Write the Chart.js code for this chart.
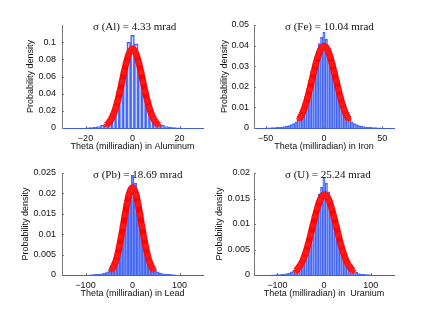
<!DOCTYPE html>
<html>
<head>
<meta charset="utf-8">
<script src="https://cdn.jsdelivr.net/npm/chart.js@4.4.1/dist/chart.umd.min.js"></script>
<style>
  html, body { margin: 0; padding: 0; background: #fff; }
  #wrap { position: relative; width: 436px; height: 309px; }
  #wrap canvas { position: absolute; left: 0; top: 0; }
</style>
</head>
<body>
<div id="wrap">
  <canvas id="alChart" width="436" height="309"></canvas>
  <canvas id="feChart" width="436" height="309"></canvas>
  <canvas id="pbChart" width="436" height="309"></canvas>
  <canvas id="uChart" width="436" height="309"></canvas>
</div>
<script>
// --- Aluminum ---
const alBins = [-19.2, -17.6, -16, -14.4, -12.8, -11.2, -9.6, -8, -6.4, -4.8, -3.2, -1.6, 0,
  1.6, 3.2, 4.8, 6.4, 8, 9.6, 11.2, 12.8, 14.4, 16, 17.6, 19.2];
const alDensity = [0.0003, 0.0005, 0.001, 0.0018, 0.003, 0.005, 0.0085, 0.017, 0.031, 0.05, 0.073, 0.1, 0.108,
  0.098, 0.072, 0.049, 0.03, 0.0165, 0.008, 0.0048, 0.003, 0.0018, 0.001, 0.0005, 0.0003];
const alCurveX = [-10.8, -9.9, -9, -8.1, -7.2, -6.3, -5.4, -4.5, -3.6, -2.7, -1.8, -0.9, 0,
  0.9, 1.8, 2.7, 3.6, 4.5, 5.4, 6.3, 7.2, 8.1, 9, 9.9, 10.8];
const alCurveY = [0.0041, 0.0068, 0.0106, 0.016, 0.0231, 0.032, 0.0423, 0.0537, 0.0652, 0.0758, 0.0845, 0.0901, 0.0921,
  0.0901, 0.0845, 0.0758, 0.0652, 0.0537, 0.0423, 0.032, 0.0231, 0.016, 0.0106, 0.0068, 0.0041];
const alXTicks = [-20, 0, 20];
const alYTicks = [0, 0.02, 0.04, 0.06, 0.08, 0.1];
const alYLabels = ['0', '0.02', '0.04', '0.06', '0.08', '0.1'];

// --- Iron ---
const feBins = [-48, -46, -44, -42, -40, -38, -36, -34, -32, -30, -28, -26, -24, -22, -20, -18, -16, -14, -12, -10, -8, -6, -4, -2, 0,
  2, 4, 6, 8, 10, 12, 14, 16, 18, 20, 22, 24, 26, 28, 30, 32, 34, 36, 38, 40, 42, 44, 46, 48];
const feDensity = [0.0001, 0.0001, 0.00015, 0.0002, 0.0003, 0.0004, 0.0005, 0.0007, 0.0009, 0.0012, 0.0016, 0.0022, 0.003,
  0.0042, 0.006, 0.0082, 0.0112, 0.015, 0.0195, 0.025, 0.03, 0.036, 0.041, 0.044, 0.0465,
  0.043, 0.039, 0.035, 0.0295, 0.0245, 0.0195, 0.015, 0.0113, 0.0083, 0.006, 0.0043, 0.003, 0.0022,
  0.0016, 0.0012, 0.0009, 0.0007, 0.0005, 0.0004, 0.0003, 0.0002, 0.00015, 0.0001, 0.0001];
const feCurveX = [-21, -19.25, -17.5, -15.75, -14, -12.25, -10.5, -8.75, -7, -5.25, -3.5, -1.75, 0,
  1.75, 3.5, 5.25, 7, 8.75, 10.5, 12.25, 14, 15.75, 17.5, 19.25, 21];
const feCurveY = [0.0045, 0.0063, 0.0087, 0.0116, 0.015, 0.0189, 0.023, 0.0272, 0.0311, 0.0346, 0.0374, 0.0391, 0.0397,
  0.0391, 0.0374, 0.0346, 0.0311, 0.0272, 0.023, 0.0189, 0.015, 0.0116, 0.0087, 0.0063, 0.0045];
const feXTicks = [-50, 0, 50];
const feYTicks = [0, 0.01, 0.02, 0.03, 0.04, 0.05];
const feYLabels = ['0', '0.01', '0.02', '0.03', '0.04', '0.05'];

// --- Lead ---
const pbBins = [-90, -84, -78, -72, -66, -60, -54, -48, -42, -36, -30, -24, -18, -12, -6, 0,
  6, 12, 18, 24, 30, 36, 42, 48, 54, 60, 66, 72, 78, 84, 90];
const pbDensity = [0.00005, 0.0001, 0.00015, 0.0002, 0.0003, 0.0005, 0.0008, 0.0012, 0.002, 0.0036, 0.006, 0.0095,
  0.014, 0.019, 0.0215, 0.0244, 0.0225, 0.0188, 0.0138, 0.0093, 0.0059, 0.0035, 0.002, 0.0012, 0.0008,
  0.0005, 0.0003, 0.0002, 0.00015, 0.0001, 0.00005];
const pbCurveX = [-44, -40, -36, -32, -28, -24, -20, -16, -12, -8, -4, 0, 4, 8, 12, 16, 20, 24, 28, 32, 36, 40, 44];
const pbCurveY = [0.0013, 0.0022, 0.0033, 0.0049, 0.007, 0.0094, 0.012, 0.0148, 0.0174, 0.0195, 0.0209, 0.0214,
  0.0209, 0.0195, 0.0174, 0.0148, 0.012, 0.0094, 0.007, 0.0049, 0.0033, 0.0022, 0.0013];
const pbXTicks = [-100, 0, 100];
const pbYTicks = [0, 0.005, 0.01, 0.015, 0.02, 0.025];
const pbYLabels = ['0', '0.005', '0.01', '0.015', '0.02', '0.025'];

// --- Uranium ---
const uBins = [-110, -105, -100, -95, -90, -85, -80, -75, -70, -65, -60, -55, -50, -45, -40, -35, -30, -25, -20, -15, -10, -5, 0,
  5, 10, 15, 20, 25, 30, 35, 40, 45, 50, 55, 60, 65, 70, 75, 80, 85, 90, 95, 100];
const uDensity = [0.00005, 0.00005, 0.00008, 0.0001, 0.00015, 0.0002, 0.0003, 0.0004, 0.0006, 0.0008, 0.0011, 0.0015,
  0.0021, 0.003, 0.0038, 0.0052, 0.007, 0.009, 0.0116, 0.0138, 0.0158, 0.0172, 0.0192,
  0.018, 0.0163, 0.0145, 0.0125, 0.0105, 0.0085, 0.0066, 0.0048, 0.0034, 0.0024, 0.0016, 0.0011,
  0.0007, 0.0005, 0.0003, 0.0002, 0.00015, 0.0001, 0.00008, 0.00005];
const uCurveX = [-59, -54, -49, -44, -39, -34, -29, -24, -19, -14, -9, -4, 1, 6, 11, 16, 21, 26, 31, 36, 41, 46, 51, 56, 61];
const uCurveY = [0.0009, 0.0015, 0.0022, 0.0032, 0.0045, 0.006, 0.0078, 0.0097, 0.0115, 0.0132, 0.0146, 0.0155, 0.0158,
  0.0155, 0.0146, 0.0132, 0.0115, 0.0097, 0.0078, 0.006, 0.0045, 0.0032, 0.0022, 0.0015, 0.0009];
const uXTicks = [-100, 0, 100];
const uYTicks = [0, 0.005, 0.01, 0.015, 0.02];
const uYLabels = ['0', '0.005', '0.01', '0.015', '0.02'];

const W = 436, H = 309;
const tickFont = { family: '"Liberation Sans", Arial, sans-serif', size: 9 };

// title + little inward tick marks, matlab style
const panelDecor = {
  id: 'panelDecor',
  afterDatasetsDraw(chart, args, opts) {
    const { ctx, chartArea: a, scales } = chart;
    ctx.save();
    ctx.strokeStyle = '#777';
    ctx.lineWidth = 1;
    scales.x.ticks.forEach((t) => {
      const px = Math.round(scales.x.getPixelForValue(t.value)) + 0.5;
      ctx.beginPath(); ctx.moveTo(px, a.bottom); ctx.lineTo(px, a.bottom - 2); ctx.stroke();
    });
    scales.y.ticks.forEach((t) => {
      const py = Math.round(scales.y.getPixelForValue(t.value)) + 0.5;
      ctx.beginPath(); ctx.moveTo(a.left, py); ctx.lineTo(a.left + 2, py); ctx.stroke();
    });
    ctx.font = '11px "Liberation Serif", "Times New Roman", serif';
    ctx.fillStyle = '#111';
    ctx.textBaseline = 'alphabetic';
    ctx.textAlign = 'left';
    ctx.fillText(opts.text, a.left + 31, a.top + 4.5);
    ctx.restore();
  }
};

function makePanel(id, p) {
  const yW = p.left - p.yTitleX + 4.5;
  new Chart(document.getElementById(id), {
    type: 'bar',
    data: {
      datasets: [
        {
          type: 'line',
          data: p.curveX.map((x, i) => ({ x, y: p.curveY[i] })),
          borderColor: '#ff0000',
          borderWidth: 6.5,
          pointStyle: 'star',
          pointRadius: 3.5,
          pointBorderWidth: 1.2,
          pointBorderColor: '#ff1a1a',
          pointBackgroundColor: '#ff0000',
          cubicInterpolationMode: 'monotone',
          fill: false
        },
        {
          type: 'bar',
          data: p.bins.map((x, i) => ({ x, y: p.density[i] })),
          backgroundColor: 'rgba(150, 175, 255, 0.35)',
          borderColor: '#4063f2',
          borderWidth: 1,
          barPercentage: 1,
          categoryPercentage: 1
        }
      ]
    },
    options: {
      responsive: false,
      animation: false,
      devicePixelRatio: 1,
      layout: {
        padding: {
          left: p.yTitleX - 4.5,
          right: W - p.right,
          top: p.top,
          bottom: H - p.bottom - 23.5
        }
      },
      plugins: {
        legend: { display: false },
        tooltip: { enabled: false },
        panelDecor: { text: p.title }
      },
      scales: {
        x: {
          type: 'linear',
          min: p.xMin,
          max: p.xMax,
          offset: false,
          grid: { display: false, drawTicks: false },
          border: { display: true, color: '#3b5be8', width: 1 },
          afterBuildTicks: (s) => { s.ticks = p.xTicks.map((v) => ({ value: v })); },
          afterFit: (s) => { s.height = 23.5; },
          ticks: {
            font: tickFont, color: '#111', padding: 5, maxRotation: 0,
            callback: (v) => (v < 0 ? '\u2212' + Math.abs(v) : String(v))
          },
          title: { display: true, text: p.xLabel, font: tickFont, color: '#111', padding: 0 }
        },
        y: {
          min: 0,
          max: p.yMax,
          grid: { display: false, drawTicks: false },
          border: { display: true, color: '#777', width: 1 },
          afterBuildTicks: (s) => { s.ticks = p.yTicks.map((v) => ({ value: v })); },
          afterFit: (s) => { s.width = yW; },
          ticks: {
            font: tickFont, color: '#111', padding: p.yPad,
            callback: (v) => p.yLabels[p.yTicks.indexOf(v)]
          },
          title: { display: true, text: 'Probability density', font: { ...tickFont, lineHeight: 1 }, color: '#111', padding: 0 }
        }
      }
    },
    plugins: [panelDecor]
  });
}

makePanel('alChart', {
  bins: alBins, density: alDensity, curveX: alCurveX, curveY: alCurveY,
  xTicks: alXTicks, yTicks: alYTicks, yLabels: alYLabels,
  xMin: -30, xMax: 30, yMax: 0.12,
  left: 62, right: 203, top: 25, bottom: 128, yTitleX: 30.5, yPad: 6,
  title: '\u03c3 (Al) = 4.33 mrad', xLabel: 'Theta (milliradian) in Aluminum'
});
makePanel('feChart', {
  bins: feBins, density: feDensity, curveX: feCurveX, curveY: feCurveY,
  xTicks: feXTicks, yTicks: feYTicks, yLabels: feYLabels,
  xMin: -60, xMax: 60, yMax: 0.05,
  left: 254, right: 394, top: 25, bottom: 128, yTitleX: 224.5, yPad: 5,
  title: '\u03c3 (Fe) = 10.04 mrad', xLabel: 'Theta (milliradian) in Iron'
});
makePanel('pbChart', {
  bins: pbBins, density: pbDensity, curveX: pbCurveX, curveY: pbCurveY,
  xTicks: pbXTicks, yTicks: pbYTicks, yLabels: pbYLabels,
  xMin: -150, xMax: 150, yMax: 0.025,
  left: 62, right: 203, top: 173, bottom: 275, yTitleX: 26, yPad: 6,
  title: '\u03c3 (Pb) = 18.69 mrad', xLabel: 'Theta (milliradian) in Lead'
});
makePanel('uChart', {
  bins: uBins, density: uDensity, curveX: uCurveX, curveY: uCurveY,
  xTicks: uXTicks, yTicks: uYTicks, yLabels: uYLabels,
  xMin: -150, xMax: 150, yMax: 0.02,
  left: 254, right: 394, top: 173, bottom: 275, yTitleX: 219.5, yPad: 4,
  title: '\u03c3 (U) = 25.24 mrad', xLabel: 'Theta (milliradian) in  Uranium'
});
</script>
</body>
</html>
